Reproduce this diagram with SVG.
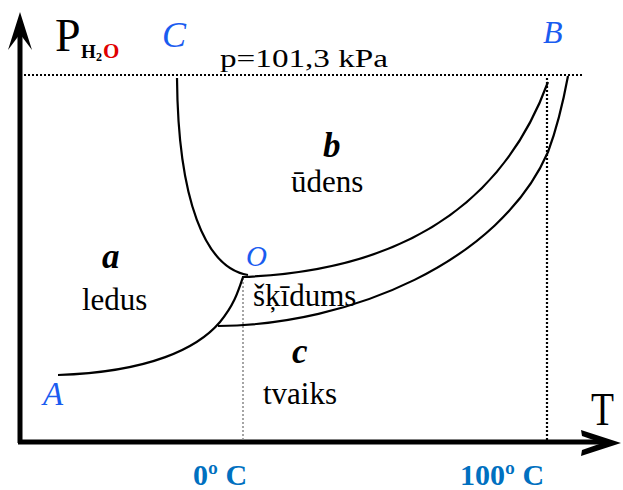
<svg xmlns="http://www.w3.org/2000/svg" width="623" height="490" viewBox="0 0 623 490">
<style>
.ax{stroke:#000;stroke-width:5;fill:none}
.cv{stroke:#000;stroke-width:2.2;fill:none}
.dot{stroke:#000;stroke-width:2.2;stroke-dasharray:2 2;fill:none}
.dotl{stroke:#888;stroke-width:1.5;stroke-dasharray:2 2;fill:none}
.pt{font-family:"Liberation Serif",serif;font-style:italic;fill:#1a5cf0}
.lb{font-family:"Liberation Serif",serif;font-size:31px;fill:#000}
.li{font-family:"Liberation Serif",serif;font-size:35px;font-weight:bold;font-style:italic;fill:#000}
.tk{font-family:"Liberation Serif",serif;font-size:30px;font-weight:bold;fill:#0070c0}
</style>
<g id="axes">
<path class="ax" d="M20,443 V24"/>
<path d="M20,12 L8,50 L20,34 L32,50 Z" fill="#000"/>
<path class="ax" d="M18,442 H605"/>
<path d="M621,443 L581,430 L582,436 L602,443 L582,450 L581,456 Z" fill="#000"/>
</g>
<g id="guides">
<path class="dot" d="M24,75 H582"/>
<path class="dotl" d="M243,278 V441"/>
<path class="dot" d="M547,78 V441"/>
</g>
<g id="connectors">
<path class="cv" d="M177,78 C178,200 205,268 248,275"/>
<path class="cv" d="M242,277 C350,273 490,240 548,82"/>
<path class="cv" d="M218,326 C350,325 500,262 548,152 C557,128 563,103 568,76"/>
<path class="cv" d="M58,375 C150,372 198,348 220,322 C234,305 238,292 243,277"/>
</g>
<g id="labels">
<text x="55" y="51" font-family="Liberation Serif,serif" font-size="46">P</text>
<text x="81" y="58" font-family="Liberation Serif,serif" font-size="19" font-weight="bold">H</text>
<text x="96" y="61" font-family="Liberation Serif,serif" font-size="12" font-weight="bold">2</text>
<text x="103" y="58" font-family="Liberation Serif,serif" font-size="21" font-weight="bold" fill="#e00000">O</text>
<text class="pt" x="162" y="47" font-size="36">C</text>
<text class="pt" x="543" y="43" font-size="32">B</text>
<text x="220" y="67" font-family="Liberation Serif,serif" font-size="25" textLength="168" lengthAdjust="spacingAndGlyphs">p=101,3 kPa</text>
<text class="li" x="323" y="157">b</text>
<text class="lb" x="291" y="192">ūdens</text>
<text class="li" x="102" y="268">a</text>
<text class="lb" x="82" y="310">ledus</text>
<text class="pt" x="246" y="266" font-size="29">O</text>
<text class="lb" x="253" y="306">šķīdums</text>
<text class="li" x="292" y="363">c</text>
<text class="lb" x="263" y="404">tvaiks</text>
<text class="pt" x="43" y="405" font-size="33">A</text>
<text x="591" y="425" font-family="Liberation Serif,serif" font-size="46" textLength="23" lengthAdjust="spacingAndGlyphs">T</text>
<text class="tk" x="193" y="485">0º C</text>
<text class="tk" x="460" y="485">100º C</text>
</g>
</svg>
